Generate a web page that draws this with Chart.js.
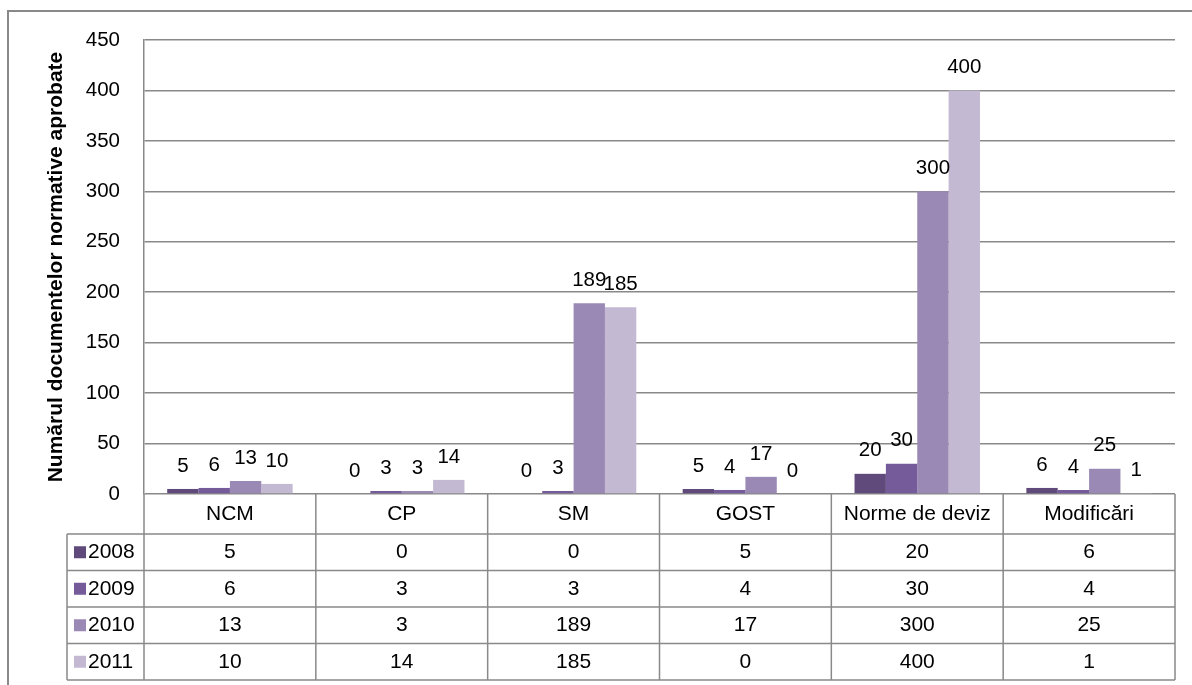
<!DOCTYPE html>
<html>
<head>
<meta charset="utf-8">
<title>Numărul documentelor normative aprobate</title>
<script src="https://cdn.jsdelivr.net/npm/chart.js@4/dist/chart.umd.min.js"></script>
<style>
    body { margin: 0; background: #fff; }
    canvas { display: block; }
</style>
</head>
<body>
<canvas id="docChart" width="1192" height="685"></canvas>
<script>
const categories = ['NCM', 'CP', 'SM', 'GOST', 'Norme de deviz', 'Modificări'];
const years = ['2008', '2009', '2010', '2011'];
const values2008 = [5, 0, 0, 5, 20, 6];
const values2009 = [6, 3, 3, 4, 30, 4];
const values2010 = [13, 3, 189, 17, 300, 25];
const values2011 = [10, 14, 185, 0, 400, 1];
const yearColors = ['#5f4a7b', '#765b9b', '#9b89b5', '#c4b9d2'];
const yAxisTitle = 'Numărul documentelor normative aprobate';

const seriesValues = [values2008, values2009, values2010, values2011];
const FONT = '"Liberation Sans", Arial, sans-serif';
const LINE = '#898989';

// frame round the whole chart
const framePlugin = {
    id: 'frame',
    beforeDraw(chart) {
        const ctx = chart.ctx;
        ctx.save();
        ctx.fillStyle = '#fff';
        ctx.fillRect(0, 0, chart.width, chart.height);
        ctx.strokeStyle = LINE;
        ctx.lineWidth = 2;
        ctx.strokeRect(8, 11, chart.width + 20, chart.height + 20);
        ctx.restore();
    }
};

// value labels above each bar
const barLabels = {
    id: 'barLabels',
    afterDatasetsDraw(chart) {
        const ctx = chart.ctx;
        ctx.save();
        ctx.font = '20.5px ' + FONT;
        ctx.fillStyle = '#000';
        ctx.textAlign = 'center';
        ctx.textBaseline = 'middle';
        chart.data.datasets.forEach((ds, i) => {
            chart.getDatasetMeta(i).data.forEach((bar, j) => {
                ctx.fillText(String(ds.data[j]), bar.x, bar.y - 23);
            });
        });
        ctx.restore();
    }
};

// data table under the plot, with legend keys
const dataTable = {
    id: 'dataTable',
    afterDraw(chart) {
        const ctx = chart.ctx;
        const area = chart.chartArea;
        const xs = chart.scales.x;
        const colW = (xs.right - xs.left) / categories.length;
        const headH = 40;
        const rowH = 36.5;
        const keyLeft = 67;
        const top = area.bottom;
        const bottom = top + headH + rowH * years.length;

        ctx.save();
        ctx.strokeStyle = LINE;
        ctx.lineWidth = 1.5;
        ctx.beginPath();
        // horizontal lines
        ctx.moveTo(area.left, top + headH);
        ctx.lineTo(area.right, top + headH);
        ctx.moveTo(keyLeft, top + headH);
        ctx.lineTo(area.left, top + headH);
        for (let r = 1; r <= years.length; r++) {
            const y = top + headH + r * rowH;
            ctx.moveTo(keyLeft, y);
            ctx.lineTo(area.right, y);
        }
        // vertical lines
        ctx.moveTo(keyLeft, top + headH);
        ctx.lineTo(keyLeft, bottom);
        for (let c = 0; c <= categories.length; c++) {
            const x = xs.left + c * colW;
            ctx.moveTo(x, top);
            ctx.lineTo(x, bottom);
        }
        ctx.stroke();

        ctx.font = '21px ' + FONT;
        ctx.fillStyle = '#000';
        ctx.textAlign = 'center';
        ctx.textBaseline = 'middle';
        categories.forEach((cat, c) => {
            ctx.fillText(cat, xs.getPixelForValue(c), top + headH / 2);
        });
        years.forEach((yr, r) => {
            const cy = top + headH + r * rowH + rowH / 2;
            seriesValues[r].forEach((v, c) => {
                ctx.fillText(String(v), xs.getPixelForValue(c), cy);
            });
            ctx.fillStyle = yearColors[r];
            ctx.fillRect(74, cy - 6, 12, 12);
            ctx.fillStyle = '#000';
            ctx.textAlign = 'left';
            ctx.fillText(yr, 88, cy);
            ctx.textAlign = 'center';
        });

        // vertical axis title
        ctx.font = 'bold 21px ' + FONT;
        ctx.translate(56, (area.top + area.bottom) / 2);
        ctx.rotate(-Math.PI / 2);
        ctx.fillText(yAxisTitle, 0, 0);
        ctx.restore();
    }
};

const chart = new Chart(document.getElementById('docChart').getContext('2d'), {
    type: 'bar',
    data: {
        labels: categories,
        datasets: years.map((yr, i) => ({
            label: yr,
            data: seriesValues[i],
            backgroundColor: yearColors[i],
            borderWidth: 0,
            barPercentage: 1,
            categoryPercentage: 0.73
        }))
    },
    options: {
        responsive: false,
        animation: false,
        layout: {
            padding: { left: 0, top: 40, right: 17, bottom: 191 }
        },
        plugins: {
            legend: { display: false },
            tooltip: { enabled: false }
        },
        scales: {
            x: {
                display: false
            },
            y: {
                min: 0,
                max: 450,
                afterFit(scale) {
                    scale.width = 144;
                },
                border: { display: true, color: LINE, width: 1.5 },
                grid: { color: LINE, lineWidth: 1.5, drawTicks: false },
                ticks: {
                    stepSize: 50,
                    padding: 24,
                    color: '#000',
                    font: { family: FONT, size: 20.5 }
                }
            }
        }
    },
    plugins: [framePlugin, barLabels, dataTable]
});
</script>
</body>
</html>
